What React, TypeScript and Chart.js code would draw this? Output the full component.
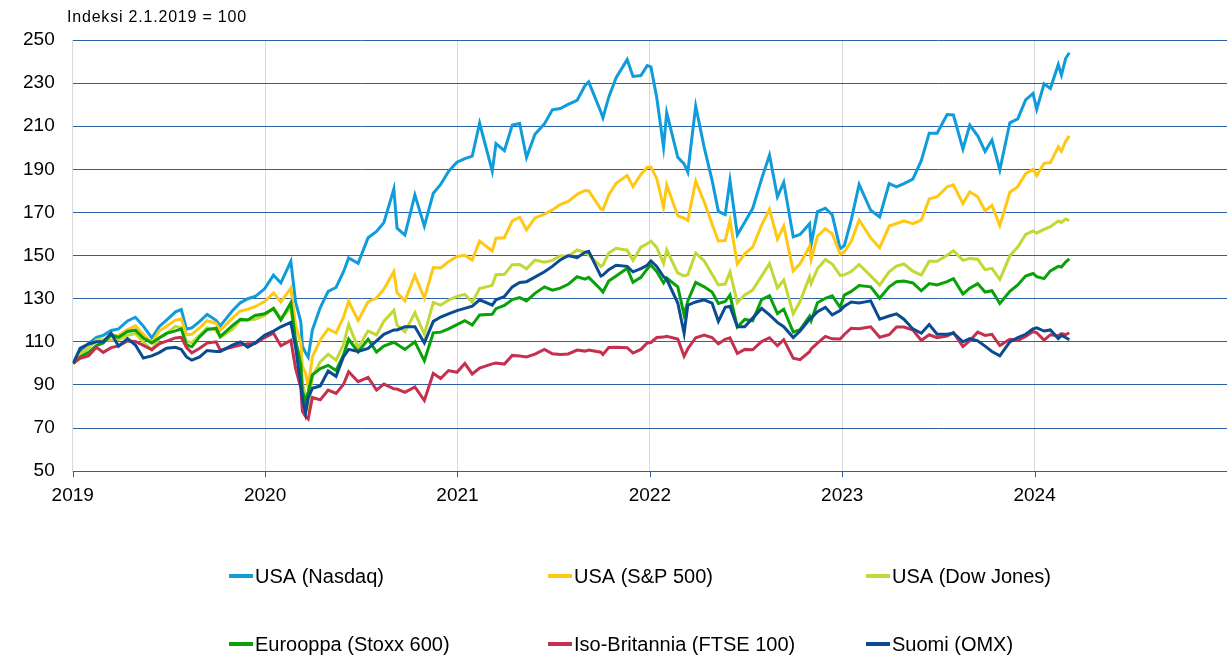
import { useEffect, useRef } from 'react';
import { Chart, registerables } from 'chart.js';

Chart.register(...registerables);

const FONT = "'Liberation Sans', Arial, sans-serif";
const TITLE = 'Indeksi 2.1.2019 = 100';

const dates = [
  '2019-01-02','2019-01-15','2019-01-31','2019-02-15','2019-02-28','2019-03-15','2019-03-29','2019-04-15','2019-04-30','2019-05-15',
  '2019-05-31','2019-06-14','2019-06-28','2019-07-15','2019-07-26','2019-08-05','2019-08-15','2019-08-30','2019-09-13','2019-09-30',
  '2019-10-08','2019-10-31','2019-11-15','2019-11-29','2019-12-13','2019-12-31','2020-01-17','2020-01-31','2020-02-19','2020-02-28',
  '2020-03-09','2020-03-12','2020-03-18','2020-03-23','2020-03-31','2020-04-15','2020-04-30','2020-05-15','2020-05-29','2020-06-08',
  '2020-06-26','2020-07-15','2020-07-31','2020-08-14','2020-09-02','2020-09-08','2020-09-23','2020-10-12','2020-10-30','2020-11-16',
  '2020-11-30','2020-12-15','2020-12-31','2021-01-15','2021-01-29','2021-02-12','2021-03-08','2021-03-15','2021-03-31','2021-04-15',
  '2021-04-29','2021-05-12','2021-05-28','2021-06-15','2021-06-30','2021-07-15','2021-07-30','2021-08-16','2021-08-31','2021-09-07',
  '2021-09-30','2021-10-04','2021-10-15','2021-10-29','2021-11-19','2021-11-30','2021-12-15','2021-12-27','2022-01-03','2022-01-14',
  '2022-01-27','2022-02-02','2022-02-23','2022-03-07','2022-03-14','2022-03-29','2022-04-14','2022-04-29','2022-05-11','2022-05-24',
  '2022-06-02','2022-06-16','2022-06-30','2022-07-15','2022-08-01','2022-08-16','2022-08-31','2022-09-12','2022-09-30','2022-10-13',
  '2022-10-31','2022-11-03','2022-11-15','2022-11-30','2022-12-13','2022-12-28','2023-01-05','2023-01-18','2023-02-02','2023-02-24',
  '2023-03-13','2023-03-31','2023-04-14','2023-04-28','2023-05-15','2023-05-31','2023-06-15','2023-06-30','2023-07-19','2023-07-31',
  '2023-08-18','2023-08-31','2023-09-15','2023-09-29','2023-10-12','2023-10-27','2023-11-15','2023-11-30','2023-12-15','2023-12-29',
  '2024-01-05','2024-01-19','2024-01-31','2024-02-15','2024-02-21','2024-02-29','2024-03-07',
];

const nasdaq = [
  100,105.4,109.2,112.1,113,115.3,116,119.7,121.4,117.3,
  111.8,117,120.1,123.9,125,115.9,116.5,119.5,122.7,120,
  117.4,124.4,128.1,130,131,134.6,140.9,137.3,147.3,128.5,
  119.3,108,104.9,102.9,115.5,125.9,133.4,135.2,142.4,148.9,
  146.4,158.3,161.2,165.3,180.9,162.7,159.5,178.2,163.7,178.9,
  183,189,193.3,195,196.1,211.5,189.2,201.9,198.7,210.6,
  211.3,195.5,206.3,211.1,217.6,218.2,220.1,222,228.9,230.6,
  216.7,213.9,223.5,232.5,240.9,233.1,233.5,238.1,237.5,223.4,
  200.3,216.3,195.6,192.5,188.7,219.3,200.3,185,170.5,169,
  184.8,159.7,165.5,171.8,185.6,196.6,177.3,184,158.7,159.8,
  164.8,155.2,170.4,172,168.9,153.2,154.6,166.5,183,171,
  167.9,183.4,181.9,183.4,185.5,194,206.8,206.8,215.4,215.2,
  199.4,210.5,205.6,198.3,203.6,189.7,211.6,213.4,222.2,225.2,
  217.9,229.7,227.5,238.6,233.7,241.4,244.1,
];

const sp500 = [
  100,104,107.7,110.6,110.9,112.4,112.9,115.7,117.4,113.5,
  109.6,115,117.2,120.1,120.6,113.3,113.5,116.6,119.8,118.6,
  115.3,121,124.3,125.1,126.3,128.7,132.7,128.5,134.9,117.7,
  109.4,98.8,95.5,89.1,103,110.9,116,114.1,121.3,128.8,
  119.9,128.6,130.3,134.4,142.6,132.7,129,140.8,130.3,144.5,
  144.3,147.2,149.6,150.1,148,156.7,152.2,158.1,158.3,166.1,
  167.8,161.9,167.5,169.2,171.2,173.7,175.1,178.4,180.2,180.1,
  171.6,171.3,178.1,183.5,187.2,182,187.6,190.9,191.1,185.8,
  172.4,182.8,168.4,167.4,166.3,184.5,175,164.6,156.8,157,
  166.4,146.1,150.8,153.9,164.1,171.5,157.6,163.7,142.9,146.2,
  154.3,148.2,159,162.5,160.1,150.7,151.7,156.5,166.5,158.2,
  153.6,163.7,164.9,166.1,164.8,166.5,176.3,177.3,181.9,182.8,
  174.1,179.6,177.3,170.8,173.3,164,179.4,182,188,190,
  187.1,192.8,193.1,200.4,198.4,203,205.5,
];

const dowJones = [
  100,103.1,107.1,110.9,111,110.7,111.1,113,113.9,109.9,
  106.3,111.8,113.9,117.2,116.5,110.2,109.6,113.1,116.6,115.3,
  112.1,115.8,120,120.2,120.5,122.2,125.7,121,125.7,108.8,
  102.2,90.8,85.2,79.6,93.9,100.7,104.3,101.5,108.7,118.1,
  107.2,115.1,113.2,119.6,124.6,117.8,114.6,123.5,113.5,128.3,
  127,129.4,131.1,132,128.4,134.7,136.2,141.1,141.3,145.8,
  145.9,143.9,147.9,146.9,147.8,149.9,149.6,152.6,151.5,150.3,
  145,145.6,151.2,153.4,152.5,147.7,153.9,155.5,156.7,153.8,
  146.3,152.6,141.9,140.6,141.1,151.2,147.6,141.3,136.4,136.8,
  142.4,128.2,131.8,134,140.5,146.3,135,138.7,123,128.7,
  140.2,137.1,143.9,148.2,146.1,140.8,141.1,142.6,145.9,140.6,
  136.3,142.5,145.1,146.1,142.8,141,147.4,147.4,150.2,152.3,
  147.8,148.7,148.3,143.5,144.1,138.9,149.9,154,159.8,161.4,
  160.5,162.2,163.4,166.1,165.4,167,166.2,
];

const stoxx600 = [
  100,103,105,108.3,109.5,113.3,112.1,114.8,115.4,111.8,
  109.5,111.8,113.9,115.1,116,108.6,107.7,112.4,115.7,116.3,
  112.4,117.5,120.4,120.1,122.2,123,125.4,120.1,128.1,110.9,
  99.3,86.8,82.8,86.7,94.7,97.6,99.1,96.7,103.8,111.2,
  105.3,111.2,105.3,108,109.8,108.9,106.5,110,101.2,114.2,
  114.5,116,118,119.8,117.8,122.5,122.8,125.4,126.9,129.6,
  130.5,129,132.5,135.5,134,134.9,136.7,140.2,139.1,139.9,
  134.3,133.1,138.2,140.5,144.1,137.6,139.9,143.8,145.6,142.6,
  137.3,139.6,135.5,122.5,129,137.6,135.5,133.1,127.8,128.7,
  131.7,116.9,120.4,119.8,129.6,131.4,123.1,125.1,114.5,115.7,
  121.9,119.8,128.1,130.2,131.4,126,131.7,133.4,136.1,135.5,
  130.2,135.5,137.9,138.2,137.3,133.7,137,136.4,137.9,139.3,
  132.2,134.9,137,133.1,133.7,127.8,133.4,136.4,140.5,141.7,
  140.2,139.3,142.9,145,144.7,147,148.5,
];

const ftse100 = [
  100,102.4,103.5,107.5,105.1,107.3,108.1,110.4,110.2,108.4,
  106.4,109.1,110.3,111.8,112.1,107.3,104.9,107,109.4,110,
  106.1,107.6,108.5,109.1,109.2,112,114,108.2,110.7,97.7,
  88.6,77.8,75.4,74.2,84.2,83.1,87.6,86.1,90.2,96.1,
  91.5,93.5,87.6,90.4,88.2,88.1,86.6,89.1,82.8,95.4,
  93,96.7,95.9,100,95.1,97.8,99.8,100.2,99.7,103.7,
  103.4,103,104.3,106.5,104.5,104.1,104.4,106.2,105.7,106.2,
  105.2,104.1,107.4,107.5,107.3,104.8,106.5,109.5,109.7,112,
  112.2,112.6,111.3,103.3,106.8,111.9,113.1,112,109.1,111.2,
  111.9,104.6,106.5,106.3,110.1,111.9,108.2,111,102.4,101.7,
  105.4,106.7,109.4,112.5,111.4,111.3,113.4,116.3,116.1,117,
  112.1,113.3,116.9,116.9,115.5,110.6,113.3,111.9,112.7,114.3,
  107.8,110.5,114.5,113,113.5,108.3,111.2,110.7,112.5,114.8,
  114.2,110.8,113.3,112.8,113.8,113.3,114.2,
];

const omxHelsinki = [
  100,107,109,110,110,114,108,111.5,108.5,102.5,
  103.5,105,107,107.5,106.5,103,101.5,103,106,105.5,
  105.5,108.5,110,107.5,109.5,113,115,117,119,107.5,
  90,84,77,84,88.5,89.5,96.5,94,103,106.5,
  105.5,107,110.5,113.5,115.5,115.5,117,117,109.5,119.5,
  121.5,123,124.5,125.5,126.5,129.5,127,129.5,131,135.5,
  137.5,137.9,140,142.5,145,148,150,149,151.5,152,
  140.5,141,143.5,145.5,145,142.5,144,145.5,147.5,145,
  140.2,139,128,114,127,128.5,129.5,128,119.5,126,
  126.5,117,117,121,125.5,122.5,119,117,112,115,
  120.5,121,124,126,122.5,124.5,126.5,128.5,128,129,
  120.5,122,123,120.5,116,114,118,113.5,113.5,114,
  110,111.5,110.5,108,105.5,103.5,110,112,113.5,116,
  116.5,115,115.5,111.5,113,112,111,
];

const seriesNames = [
  'USA (Nasdaq)',
  'USA (S&P 500)',
  'USA (Dow Jones)',
  'Eurooppa (Stoxx 600)',
  'Iso-Britannia (FTSE 100)',
  'Suomi (OMX)',
];
const seriesValues = [nasdaq, sp500, dowJones, stoxx600, ftse100, omxHelsinki];
const seriesColors = ['#109BDB', '#FFC814', '#C3D836', '#08A208', '#C6304F', '#0A4B91'];

const yMin = 50;
const yMax = 250;
const yStep = 20;
const xFirstYear = 2019;
const xLastYear = 2025;
const xTickYears = [2019, 2020, 2021, 2022, 2023, 2024];

const GRID_BLUE = '#2C5FA3';
const GRID_GREY = '#D9D9D9';

function toYear(d: string): number {
  const [y, m, dd] = d.split('-').map(Number);
  const start = Date.UTC(y, 0, 1);
  const end = Date.UTC(y + 1, 0, 1);
  return y + (Date.UTC(y, m - 1, dd) - start) / (end - start);
}

const LEGEND_X = [229, 548, 866];
const LEGEND_Y = [576, 644];

const overlayPlugin = {
  id: 'overlay',
  afterDraw(chart: any) {
    const ctx: any = chart.ctx;
    const xScale = chart.scales.x;
    const bottom = chart.chartArea.bottom;
    ctx.save();

    // small tick marks below the x axis
    ctx.strokeStyle = GRID_BLUE;
    ctx.lineWidth = 1;
    xTickYears.forEach((yr) => {
      const px = Math.round(xScale.getPixelForValue(yr)) + 0.5;
      ctx.beginPath();
      ctx.moveTo(px, bottom);
      ctx.lineTo(px, bottom + 6);
      ctx.stroke();
    });

    ctx.fillStyle = '#000';
    ctx.font = `16px ${FONT}`;
    ctx.textBaseline = 'alphabetic';
    ctx.textAlign = 'left';
    if ('letterSpacing' in ctx) ctx.letterSpacing = '0.8px';
    ctx.fillText(TITLE, 67, 22);
    if ('letterSpacing' in ctx) ctx.letterSpacing = '0px';

    ctx.font = `20px ${FONT}`;
    chart.data.datasets.forEach((ds: any, i: number) => {
      const x = LEGEND_X[i % 3];
      const y = LEGEND_Y[Math.floor(i / 3)];
      ctx.strokeStyle = ds.borderColor;
      ctx.lineWidth = 4;
      ctx.lineCap = 'butt';
      ctx.beginPath();
      ctx.moveTo(x, y);
      ctx.lineTo(x + 24, y);
      ctx.stroke();
      ctx.fillStyle = '#000';
      ctx.textBaseline = 'middle';
      ctx.fillText(ds.label, x + 26, y + 1);
    });
    ctx.restore();
  },
};

export default function App() {
  const canvasRef = useRef<HTMLCanvasElement | null>(null);

  useEffect(() => {
    const canvas = canvasRef.current;
    if (!canvas) return;
    const xs = dates.map(toYear);
    const chart = new Chart(canvas, {
      type: 'line',
      data: {
        datasets: seriesNames.map((name, i) => ({
          label: name,
          data: seriesValues[i].map((v, j) => ({ x: xs[j], y: v })),
          borderColor: seriesColors[i],
          backgroundColor: seriesColors[i],
          borderWidth: 3,
          pointRadius: 0,
          tension: 0,
          order: seriesNames.length - 1 - i,
        })),
      },
      options: {
        responsive: false,
        animation: false,
        devicePixelRatio: 1,
        layout: { padding: { left: 5, right: 0, top: 40, bottom: 150 } },
        plugins: {
          legend: { display: false },
          tooltip: { enabled: false },
          title: { display: false },
        },
        scales: {
          x: {
            type: 'linear',
            min: xFirstYear,
            max: xLastYear,
            ticks: {
              stepSize: 1,
              autoSkip: false,
              maxRotation: 0,
              padding: 0,
              color: '#000',
              font: { family: FONT, size: 19 },
              callback: (v: any) => (Number(v) === xLastYear ? '' : String(v)),
            },
            grid: {
              color: (c: any) => (c.tick && c.tick.value === xLastYear ? 'rgba(0,0,0,0)' : GRID_GREY),
              lineWidth: 1,
              drawTicks: true,
              tickLength: 13,
              tickColor: 'rgba(0,0,0,0)',
            },
            border: { display: true, color: GRID_BLUE, width: 1 },
          },
          y: {
            type: 'linear',
            min: yMin,
            max: yMax,
            ticks: {
              stepSize: yStep,
              padding: 18,
              color: '#000',
              font: { family: FONT, size: 19 },
            },
            grid: {
              color: GRID_BLUE,
              lineWidth: 1,
              drawTicks: false,
            },
            border: { display: true, color: GRID_GREY, width: 1 },
          },
        },
      },
      plugins: [overlayPlugin],
    });
    return () => chart.destroy();
  }, []);

  return (
    <div style={{ position: 'absolute', left: 0, top: 0, width: 1227, height: 657, background: '#fff' }}>
      <canvas ref={canvasRef} width={1227} height={657} />
    </div>
  );
}
